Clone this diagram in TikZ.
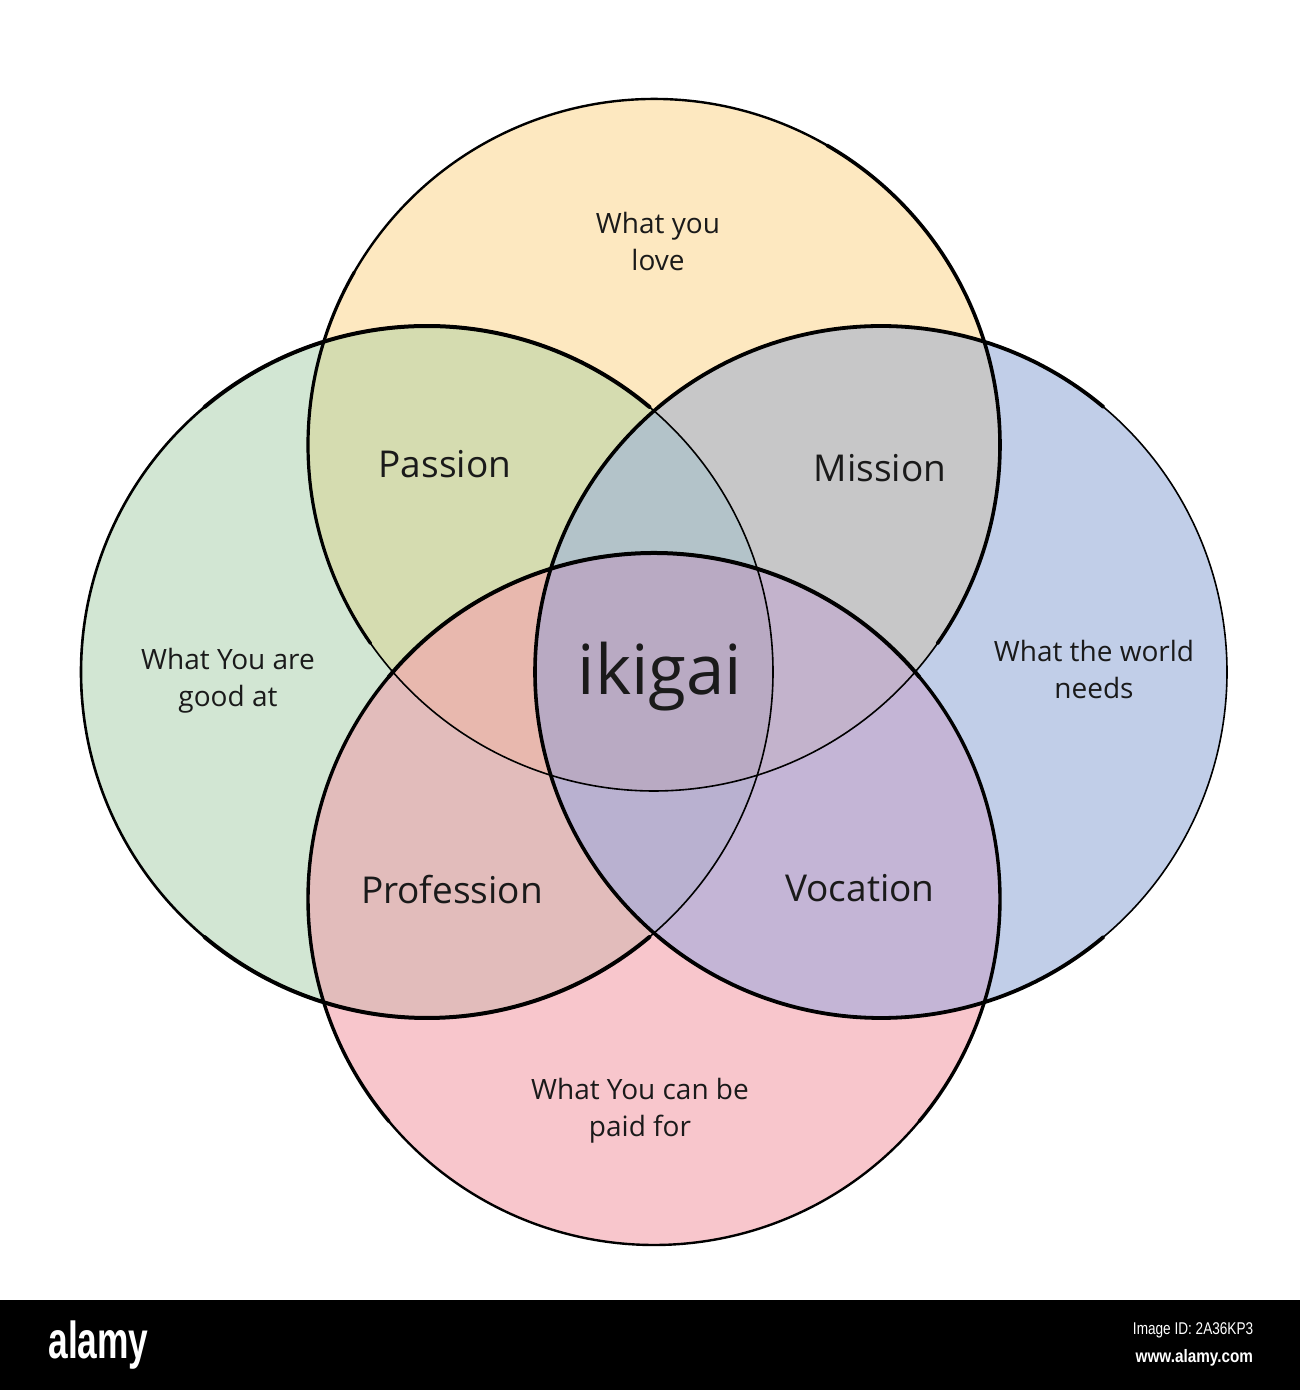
\documentclass[tikz,border=0pt]{standalone}
\usepackage{fontspec}
\setmainfont{Open Sans}
\newfontfamily\barfont{Liberation Sans}
\definecolor{cT}{HTML}{FDE8C0}
\definecolor{cL}{HTML}{D2E6D3}
\definecolor{cR}{HTML}{C1CEE8}
\definecolor{cB}{HTML}{F8C6CC}
\definecolor{cTL}{HTML}{D5DCB0}
\definecolor{cTR}{HTML}{C7C7C8}
\definecolor{cLB}{HTML}{E2BCBB}
\definecolor{cRB}{HTML}{C4B5D6}
\definecolor{cTB}{HTML}{E6C4B8}
\definecolor{cLR}{HTML}{B8C4CC}
\definecolor{cTLR}{HTML}{B3C3C9}
\definecolor{cTLB}{HTML}{E8B8AE}
\definecolor{cTRB}{HTML}{C3B3CC}
\definecolor{cLRB}{HTML}{B9B1D0}
\definecolor{cAll}{HTML}{B9AAC3}
\definecolor{ink}{HTML}{1A1A1A}
\tikzset{
  small/.style={text=ink, align=center, font=\fontsize{28}{37}\selectfont},
  big/.style={text=ink, font=\fontsize{37}{42}\selectfont},
  rim/.style={draw=black, line cap=round},
}
\begin{document}
\begin{tikzpicture}[x=1pt,y=1pt]
\useasboundingbox (0,0) rectangle (1300,1390);
\fill[white] (0,0) rectangle (1300,1390);
\coordinate (T) at (654,945);
\coordinate (L) at (427,718);
\coordinate (R) at (881,718);
\coordinate (B) at (654,491);
% single circles
\fill[cT] (T) circle[radius=346];
\fill[cL] (L) circle[radius=346];
\fill[cR] (R) circle[radius=346];
\fill[cB] (B) circle[radius=346];
% pairs
\begin{scope}\clip (T) circle[radius=346]; \fill[cTL] (L) circle[radius=346];\end{scope}
\begin{scope}\clip (T) circle[radius=346]; \fill[cTR] (R) circle[radius=346];\end{scope}
\begin{scope}\clip (L) circle[radius=346]; \fill[cLB] (B) circle[radius=346];\end{scope}
\begin{scope}\clip (R) circle[radius=346]; \fill[cRB] (B) circle[radius=346];\end{scope}
\begin{scope}\clip (T) circle[radius=346]; \fill[cTB] (B) circle[radius=346];\end{scope}
\begin{scope}\clip (L) circle[radius=346]; \fill[cLR] (R) circle[radius=346];\end{scope}
% triples
\begin{scope}\clip (T) circle[radius=346]; \clip (L) circle[radius=346]; \fill[cTLR] (R) circle[radius=346];\end{scope}
\begin{scope}\clip (T) circle[radius=346]; \clip (L) circle[radius=346]; \fill[cTLB] (B) circle[radius=346];\end{scope}
\begin{scope}\clip (T) circle[radius=346]; \clip (R) circle[radius=346]; \fill[cTRB] (B) circle[radius=346];\end{scope}
\begin{scope}\clip (L) circle[radius=346]; \clip (R) circle[radius=346]; \fill[cLRB] (B) circle[radius=346];\end{scope}
% all four
\begin{scope}\clip (T) circle[radius=346]; \clip (L) circle[radius=346]; \clip (R) circle[radius=346]; \fill[cAll] (B) circle[radius=346];\end{scope}
% outlines: top circle
\draw[rim, line width=1.6] (T) ++(215:346) arc[start angle=215, end angle=325, radius=346];
\draw[rim, line width=3.6] (T) ++(325:346) arc[start angle=325, end angle=420, radius=346];
\draw[rim, line width=2.4] (T) ++(60:346) arc[start angle=60, end angle=150, radius=346];
\draw[rim, line width=3.2] (T) ++(150:346) arc[start angle=150, end angle=215, radius=346];
% left circle
\draw[rim, line width=1.6] (L) ++(-50:346) arc[start angle=-50, end angle=50, radius=346];
\draw[rim, line width=4] (L) ++(50:346) arc[start angle=50, end angle=130, radius=346];
\draw[rim, line width=2.6] (L) ++(130:346) arc[start angle=130, end angle=230, radius=346];
\draw[rim, line width=4] (L) ++(230:346) arc[start angle=230, end angle=310, radius=346];
% right circle
\draw[rim, line width=1.6] (R) ++(-50:346) arc[start angle=-50, end angle=50, radius=346];
\draw[rim, line width=3.8] (R) ++(50:346) arc[start angle=50, end angle=130, radius=346];
\draw[rim, line width=3.6] (R) ++(130:346) arc[start angle=130, end angle=230, radius=346];
\draw[rim, line width=3.8] (R) ++(230:346) arc[start angle=230, end angle=310, radius=346];
% bottom circle
\draw[rim, line width=4] (B) ++(40:346) arc[start angle=40, end angle=140, radius=346];
\draw[rim, line width=3.4] (B) ++(140:346) arc[start angle=140, end angle=220, radius=346];
\draw[rim, line width=2.4] (B) ++(220:346) arc[start angle=220, end angle=320, radius=346];
\draw[rim, line width=3.4] (B) ++(320:346) arc[start angle=320, end angle=400, radius=346];
% labels
\node[small] (love) at (658,1148) {What you\\love};
\node[small] (good) at (228,709) {What You are\\good at};
\node[small] (world) at (1094,720) {What the world\\needs};
\node[small] (paid) at (640,279) {What You can be\\paid for};
\node[big] (passion) at (445,926) {Passion};
\node[big] (mission) at (880,922) {Mission};
\node[big] (profession) at (452,500) {Profession};
\node[big] (vocation) at (860,502) {Vocation};
\node[text=ink, font=\fontsize{69}{72}\selectfont] (ikigai) at (660,713) {ikigai};
% bottom bar
\fill[black] (0,0) rectangle (1300,90);
\node[text=white, font=\barfont\bfseries\fontsize{52}{56}\selectfont, xscale=0.68, anchor=west] (alamy) at (46,45) {alamy};
\node[text=white, font=\barfont\fontsize{17}{20}\selectfont, xscale=0.8, anchor=east] (imgid) at (1256,60) {Image ID: 2A36KP3};
\node[text=white, font=\barfont\bfseries\fontsize{18}{20}\selectfont, xscale=0.85, anchor=east] (www) at (1256,32) {www.alamy.com};
\end{tikzpicture}
\end{document}
